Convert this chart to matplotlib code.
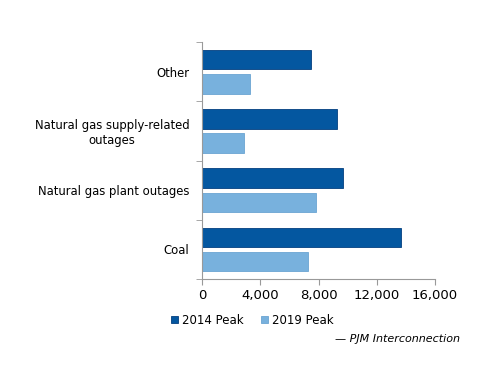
import matplotlib
matplotlib.use("Agg")
import matplotlib.pyplot as plt
import numpy as np

# categories bottom to top
categories = ["Coal", "Natural gas plant outages", "Natural gas supply-related\noutages", "Other"]
peak2014 = [13670, 9660, 9270, 7460]
peak2019 = [7280, 7830, 2900, 3300]
xticks = [0, 4000, 8000, 12000, 16000]

dark = "#0457A0"
light = "#78B1DD"

fig = plt.figure(figsize=(5, 3.86), dpi=100)
ax = fig.add_axes([0.404, 0.277, 0.466, 0.614])

y = np.arange(len(categories))
h = 0.33
ax.barh(y + 0.205, peak2014, height=h, color=dark, edgecolor="#033F80", linewidth=0.6, label="2014 Peak")
ax.barh(y - 0.205, peak2019, height=h, color=light, edgecolor="#6AA4D2", linewidth=0.6, label="2019 Peak")

ax.set_xlim(0, 16000)
ax.set_ylim(-0.5, len(categories) - 0.5)
ax.set_xticks(xticks)
ax.set_xticklabels([f"{v:,}" for v in xticks], fontsize=9.5)
ax.set_yticks(y)
ax.set_yticklabels(categories, fontsize=8.4, ha="right", multialignment="center")
ax.tick_params(axis="y", length=0, pad=9)
ax.set_yticks(np.arange(-0.5, len(categories), 1.0), minor=True)
ax.tick_params(axis="y", which="minor", length=4, color="#999999", direction="out")
ax.tick_params(axis="x", length=4, color="#999999", direction="out", pad=3)

for s in ["top", "right"]:
    ax.spines[s].set_visible(False)
ax.spines["left"].set_color("#999999")
ax.spines["bottom"].set_color("#999999")

fig.legend(loc="center left", bbox_to_anchor=(0.32, 0.17), ncol=2, frameon=False,
           fontsize=8.5, handlelength=0.6, handleheight=0.6, handletextpad=0.4,
           columnspacing=1.4)
fig.text(0.92, 0.123, "\u2014 PJM Interconnection", ha="right", va="center",
         fontsize=8, style="italic")

fig.savefig("out.png", dpi=100)
